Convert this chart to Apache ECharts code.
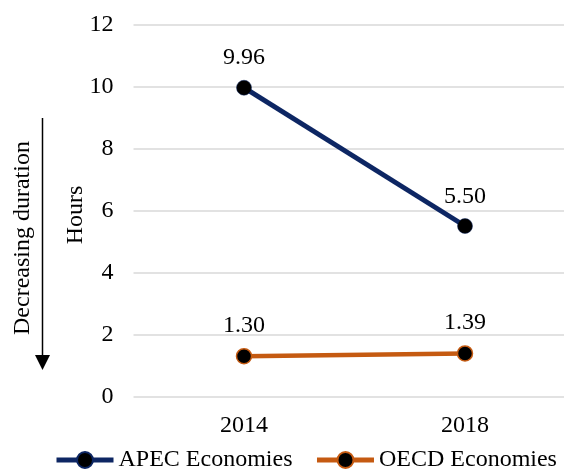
<!DOCTYPE html>
<html>
<head>
<meta charset="utf-8">
<script src="https://cdn.jsdelivr.net/npm/echarts@6/dist/echarts.min.js"></script>
<style>html,body{margin:0;padding:0;background:#fff;overflow:hidden}#c{width:564px;height:470px}</style>
</head>
<body>
<div id="c"></div>
<script>
const categories = ['2014', '2018'];
const apecValues = [9.96, 5.50];
const oecdValues = [1.30, 1.39];
const seriesNames = ['APEC Economies', 'OECD Economies'];
const yTicks = { min: 0, max: 12, interval: 2 };

const FONT = '"Liberation Serif", "Times New Roman", serif';
const chart = echarts.init(document.getElementById('c'), null, { renderer: 'canvas' });

const labelStyle = {
  show: true, position: 'top', distance: 10,
  fontFamily: FONT, fontSize: 24, color: '#000',
  formatter: p => p.value.toFixed(2)
};

chart.setOption({
  animation: false,
  backgroundColor: '#fff',
  textStyle: { fontFamily: FONT },
  grid: { left: 133.5, width: 442, top: 24.5, height: 372, containLabel: false, outerBoundsMode: 'none' },
  xAxis: {
    type: 'category', data: categories, boundaryGap: true,
    axisLine: { show: false }, axisTick: { show: false },
    axisLabel: { fontFamily: FONT, fontSize: 24, color: '#000', margin: 17 }
  },
  yAxis: {
    type: 'value', min: yTicks.min, max: yTicks.max, interval: yTicks.interval,
    axisLine: { show: false }, axisTick: { show: false },
    splitLine: { lineStyle: { color: '#d9d9d9', width: 1.5 } },
    axisLabel: { fontFamily: FONT, fontSize: 24, color: '#000', margin: 20 }
  },
  legend: {
    left: 54, top: 448, width: 510, padding: 0, itemWidth: 57, itemHeight: 20, itemGap: 22,
    lineStyle: { width: 5 },
    textStyle: { fontFamily: FONT, fontSize: 24, color: '#000' },
    data: seriesNames
  },
  series: [
    {
      name: seriesNames[0], type: 'line', data: apecValues,
      symbol: 'circle', symbolSize: 15,
      lineStyle: { color: '#0d2663', width: 5 },
      itemStyle: { color: '#000', borderColor: '#0d2663', borderWidth: 0.5 },
      label: labelStyle
    },
    {
      name: seriesNames[1], type: 'line', data: oecdValues,
      symbol: 'circle', symbolSize: 15,
      lineStyle: { color: '#c55a11', width: 4.5 },
      itemStyle: { color: '#000', borderColor: '#c55a11', borderWidth: 1.5 },
      label: labelStyle
    }
  ],
  graphic: [
    { type: 'line', shape: { x1: 42.5, y1: 118, x2: 42.5, y2: 358 }, style: { stroke: '#000', lineWidth: 1.5 } },
    { type: 'polygon', shape: { points: [[35, 355], [50, 355], [42.5, 370]] }, style: { fill: '#000' } },
    { type: 'text', x: 23, y: 238, rotation: Math.PI / 2,
      style: { text: 'Decreasing duration', fontFamily: FONT, fontSize: 24, fill: '#000', align: 'center', verticalAlign: 'middle' } },
    { type: 'text', x: 76, y: 215, rotation: Math.PI / 2,
      style: { text: 'Hours', fontFamily: FONT, fontSize: 24, fill: '#000', align: 'center', verticalAlign: 'middle' } }
  ]
});
</script>
</body>
</html>
